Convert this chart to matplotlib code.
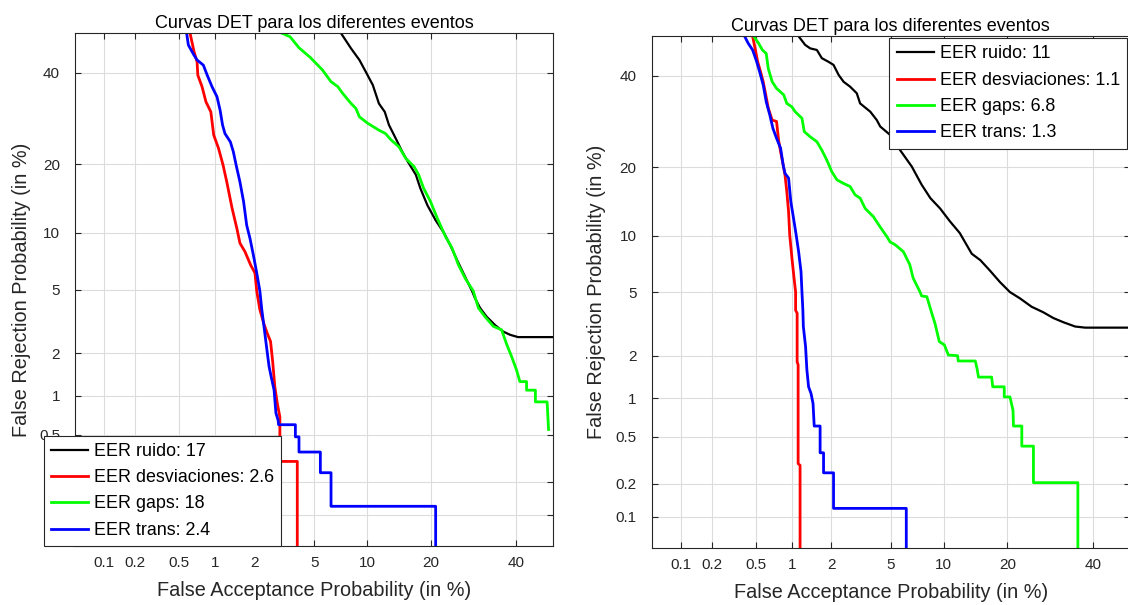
import math
import numpy as np
import matplotlib
matplotlib.use('Agg')
import matplotlib.pyplot as plt

plt.rcParams['font.family'] = ['Liberation Sans', 'DejaVu Sans']

# ---- datos (FA %, FR %) ----
# panel izquierdo
fa_ruido_1 = [7.2, 8.2, 9.1, 9.9, 10.7, 11.5, 12.3, 12.9, 13.9, 14.9, 16.0, 17.2, 18.0, 19.3, 20.9, 22.6, 23.9,
              25.6, 27.2, 28.8, 29.5, 30.7, 32.3, 34.4, 36.5, 38.3, 40.4, 50]
fr_ruido_1 = [50, 46.1, 43.2, 40.0, 37.0, 32.6, 30.7, 27.8, 25.0, 22.4, 20.2, 18.2, 16.0, 13.5, 11.5, 10.0, 8.7,
              7.1, 5.9, 4.9, 4.45, 3.9, 3.45, 3.06, 2.78, 2.65, 2.56, 2.56]
fa_desv_1 = [0.62, 0.67, 0.71, 0.72, 0.78, 0.84, 0.92, 0.97, 1.06, 1.15, 1.23, 1.35, 1.47, 1.55, 1.69, 1.86, 2.0,
             2.06, 2.17, 2.32, 2.45, 2.58, 2.67, 2.76, 2.87, 2.99, 2.99, 3.9, 3.9]
fr_desv_1 = [50, 45.3, 42.7, 39.4, 36.6, 33.0, 30.7, 25.7, 23.0, 19.9, 17.0, 13.1, 10.5, 8.9, 8.05, 6.85, 6.2,
             4.9, 3.8, 3.1, 2.7, 2.4, 1.75, 1.17, 0.88, 0.69, 0.30, 0.30, 0.05]
fa_gaps_1 = [3.1, 3.5, 4.0, 4.7, 5.6, 6.3, 6.9, 7.35, 8.2, 8.7, 9.1, 10.05, 11.5, 12.4, 13.2, 14.4, 15.5, 16.9,
             17.7, 18.6, 19.9, 21.2, 22.9, 24.3, 25.7, 27.2, 29.1, 30.3, 31.9, 34.0, 36.1, 37.4, 38.7, 40.0,
             40.9, 42.7, 42.7, 45.1, 45.1, 48.3, 48.7]
fr_gaps_1 = [50, 49.1, 46.3, 43.9, 40.7, 37.8, 36.6, 35.0, 32.6, 31.5, 29.6, 28.2, 26.7, 26.0, 24.7, 23.3, 21.1,
             19.6, 18.2, 16.0, 14.0, 11.8, 9.6, 8.4, 6.85, 5.8, 4.9, 3.9, 3.45, 3.0, 2.85, 2.3, 1.9, 1.54,
             1.27, 1.27, 1.1, 1.1, 0.9, 0.9, 0.55]
fa_trans_1 = [0.58, 0.60, 0.67, 0.71, 0.80, 0.86, 0.94, 1.03, 1.09, 1.14, 1.19, 1.31, 1.38, 1.45, 1.55, 1.65,
              1.74, 1.84, 1.95, 2.06, 2.17, 2.24, 2.32, 2.42, 2.52, 2.62, 2.73, 2.81, 2.91, 2.93, 3.79, 3.79,
              4.0, 4.0, 5.44, 5.44, 6.3, 6.3, 20.9, 20.9]
fr_trans_1 = [50, 47.0, 44.4, 43.2, 41.9, 39.4, 36.6, 34.2, 31.1, 27.8, 26.0, 24.3, 22.4, 19.9, 17.0, 14.0,
              10.9, 9.4, 7.7, 6.2, 4.9, 3.8, 3.0, 2.2, 1.62, 1.34, 1.1, 0.74, 0.65, 0.60, 0.60, 0.48,
              0.48, 0.36, 0.36, 0.24, 0.24, 0.12, 0.12, 0.05]
eer_1 = ['17', '2.6', '18', '2.4']

# panel derecho
fa_ruido_2 = [1.13, 1.27, 1.39, 1.56, 1.70, 1.90, 2.07, 2.25, 2.44, 2.71, 3.01, 3.17, 3.7, 4.08, 4.29, 4.95,
              5.7, 6.68, 7.6, 8.5, 9.6, 10.8, 12.1, 13.85, 15.2, 16.8, 18.6, 20.5, 22.5, 25.0, 27.6, 30.0,
              32.4, 35.4, 38.0, 50]
fr_ruido_2 = [50, 47.8, 46.9, 46.5, 44.4, 43.5, 42.7, 40.2, 38.5, 37.3, 35.7, 33.3, 31.4, 29.5, 28.1, 26.3,
              23.2, 20.1, 17.0, 14.9, 13.4, 11.7, 10.3, 8.1, 7.5, 6.6, 5.7, 5.0, 4.6, 4.1, 3.8, 3.5,
              3.3, 3.1, 3.05, 3.05]
fa_desv_2 = [0.47, 0.50, 0.52, 0.55, 0.58, 0.61, 0.64, 0.69, 0.75, 0.78, 0.81, 0.85, 0.88, 0.91, 0.94, 0.96,
             1.0, 1.04, 1.07, 1.07, 1.10, 1.10, 1.12, 1.12, 1.16, 1.16]
fr_desv_2 = [50, 46.1, 43.5, 41.0, 38.5, 35.3, 32.2, 29.5, 29.2, 25.2, 22.9, 20.4, 18.6, 15.9, 13.0, 10.1,
             7.7, 6.0, 5.0, 3.9, 3.75, 1.82, 1.73, 0.30, 0.29, 0.05]
fa_gaps_2 = [0.48, 0.53, 0.57, 0.615, 0.64, 0.69, 0.75, 0.86, 0.91, 1.0, 1.06, 1.20, 1.25, 1.39, 1.56, 1.70,
             1.85, 2.01, 2.19, 2.44, 2.71, 2.93, 3.17, 3.43, 3.88, 4.29, 4.72, 4.95, 5.32, 5.96, 6.5, 6.8,
             7.45, 7.6, 8.13, 8.65, 9.0, 9.5, 10.1, 10.6, 11.8, 11.9, 14.4, 14.7, 14.9, 17.1, 17.3, 19.4,
             19.4, 20.5, 21.1, 21.2, 22.9, 22.9, 25.4, 25.4, 36.1, 36.1]
fr_gaps_2 = [50, 48.2, 46.5, 45.6, 41.8, 38.5, 36.9, 35.3, 33.3, 32.5, 31.4, 29.9, 27.0, 25.9, 24.9, 23.2,
             21.3, 19.2, 17.8, 17.2, 16.7, 15.4, 14.9, 13.4, 12.3, 11.0, 9.9, 9.3, 9.0, 8.3, 7.1, 6.0,
             5.0, 4.75, 4.7, 3.75, 3.25, 2.48, 2.36, 2.02, 2.0, 1.84, 1.84, 1.61, 1.42, 1.42, 1.21, 1.21,
             1.02, 1.02, 0.81, 0.61, 0.61, 0.42, 0.42, 0.205, 0.205, 0.05]
fa_trans_2 = [0.40, 0.43, 0.47, 0.51, 0.54, 0.58, 0.615, 0.66, 0.70, 0.75, 0.81, 0.85, 0.88, 0.94, 0.98, 1.03,
              1.08, 1.13, 1.18, 1.20, 1.22, 1.23, 1.28, 1.31, 1.35, 1.41, 1.46, 1.49, 1.65, 1.65, 1.75, 1.75,
              2.07, 2.07, 6.2, 6.2]
fr_trans_2 = [50, 48.2, 46.5, 43.5, 41.0, 37.7, 33.7, 30.6, 27.7, 25.6, 23.6, 20.4, 18.9, 18.1, 14.4, 12.1,
              10.1, 8.3, 6.5, 5.0, 3.9, 3.1, 2.3, 1.6, 1.21, 1.08, 0.91, 0.61, 0.61, 0.37, 0.37, 0.25,
              0.25, 0.12, 0.12, 0.05]
eer_2 = ['11', '1.1', '6.8', '1.3']

nombres = ['ruido', 'desviaciones', 'gaps', 'trans']
colores = ['black', '#ff0000', '#00ff00', '#0000ff']
ticks = [0.1, 0.2, 0.5, 1, 2, 5, 10, 20, 40]
tick_labels = ['0.1', '0.2', '0.5', '1', '2', '5', '10', '20', '40']


# escala normal (desviacion normal) para el DET
A = [-3.969683028665376e+01, 2.209460984245205e+02, -2.759285104469687e+02,
     1.383577518672690e+02, -3.066479806614716e+01, 2.506628277459239e+00]
B = [-5.447609879822406e+01, 1.615858368580409e+02, -1.556989798598866e+02,
     6.680131188771972e+01, -1.328068155288572e+01]
C = [-7.784894002430293e-03, -3.223964580411365e-01, -2.400758277161838e+00,
     -2.549732539343734e+00, 4.374664141464968e+00, 2.938163982698783e+00]
D = [7.784695709041462e-03, 3.224671290700398e-01, 2.445134137142996e+00, 3.754408661907416e+00]


def _tail(q):
    return (((((C[0]*q+C[1])*q+C[2])*q+C[3])*q+C[4])*q+C[5]) / ((((D[0]*q+D[1])*q+D[2])*q+D[3])*q+1)


def probit(pct):
    p = np.clip(np.asarray(pct, dtype=float) / 100.0, 1e-12, 1 - 1e-12)
    z = np.empty_like(p)
    lo = p < 0.02425
    hi = p > 1 - 0.02425
    mid = ~(lo | hi)
    z[lo] = _tail(np.sqrt(-2*np.log(p[lo])))
    z[hi] = -_tail(np.sqrt(-2*np.log(1 - p[hi])))
    q = p[mid] - 0.5
    r = q*q
    z[mid] = (((((A[0]*r+A[1])*r+A[2])*r+A[3])*r+A[4])*r+A[5])*q / (((((B[0]*r+B[1])*r+B[2])*r+B[3])*r+B[4])*r+1)
    return z


_erf = np.vectorize(math.erf)


def inv_probit(z):
    z = np.asarray(z, dtype=float)
    return 100.0 * 0.5 * (1 + _erf(z / math.sqrt(2)))


gris = '#262626'

fig = plt.figure(figsize=(11.28, 6.05), dpi=100)
ax1 = fig.add_axes([75.3/1128, 1-546/605, (553.3-75.3)/1128, (546-33.3)/605])
ax2 = fig.add_axes([652/1128, 1-548/605, (1129.5-652)/1128, (548-36.3)/605])

paneles = [
    (ax1, [(fa_ruido_1, fr_ruido_1), (fa_desv_1, fr_desv_1), (fa_gaps_1, fr_gaps_1), (fa_trans_1, fr_trans_1)], eer_1),
    (ax2, [(fa_ruido_2, fr_ruido_2), (fa_desv_2, fr_desv_2), (fa_gaps_2, fr_gaps_2), (fa_trans_2, fr_trans_2)], eer_2),
]

for ax, curvas, eer in paneles:
    ax.set_xscale('function', functions=(probit, inv_probit))
    ax.set_yscale('function', functions=(probit, inv_probit))
    for (fa, fr), nom, col, e in zip(curvas, nombres, colores, eer):
        lw = 1.6 if col == 'black' else 2.0
        ax.plot(fa, fr, color=col, lw=lw, label='EER %s: %s' % (nom, e))
    ax.set_xlim(0.05, 50)
    ax.set_ylim(0.05, 50)
    ax.set_xticks(ticks)
    ax.set_xticklabels(tick_labels)
    ax.set_yticks(ticks)
    ax.set_yticklabels(tick_labels)
    ax.minorticks_off()
    ax.grid(True, color='#dcdcdc', lw=0.8)
    ax.set_axisbelow(True)
    ax.tick_params(axis='both', direction='in', length=4, width=0.8, colors=gris,
                   top=True, right=True, labelsize=11)
    ax.tick_params(axis='x', pad=7)
    ax.tick_params(axis='y', pad=11)
    for s in ax.spines.values():
        s.set_color(gris)
        s.set_linewidth(0.8)
    ax.set_title('Curvas DET para los diferentes eventos', fontsize=13, color='black', pad=3.5)
    ax.set_xlabel('False Acceptance Probability (in %)', fontsize=14.3, color=gris)
    ax.set_ylabel('False Rejection Probability (in %)', fontsize=14.3, color=gris)

ax1.xaxis.set_label_coords(0.5, -0.068)
ax2.xaxis.set_label_coords(0.5, -0.069)
ax1.yaxis.set_label_coords(-0.0927, 0.5)
ax2.yaxis.set_label_coords(-0.0953, 0.5)

# en el original la leyenda tapa las etiquetas 0.1 y 0.2 del panel izquierdo
for lab in ax1.get_yticklabels()[:2]:
    lab.set_visible(False)

leg_kw = dict(fontsize=12.9, frameon=True, fancybox=False, edgecolor=gris, framealpha=1,
              handlelength=2.1, handletextpad=0.3, borderpad=0.4, labelspacing=0.52,
              borderaxespad=0, bbox_transform=fig.transFigure)
l1 = ax1.legend(loc='upper left', bbox_to_anchor=(43.6/1128, 1-435.7/605), **leg_kw)
l2 = ax2.legend(loc='upper right', bbox_to_anchor=(1127/1128, 1-38.3/605), **leg_kw)
for l in (l1, l2):
    l.get_frame().set_linewidth(0.8)

fig.savefig('out.png', dpi=100)
